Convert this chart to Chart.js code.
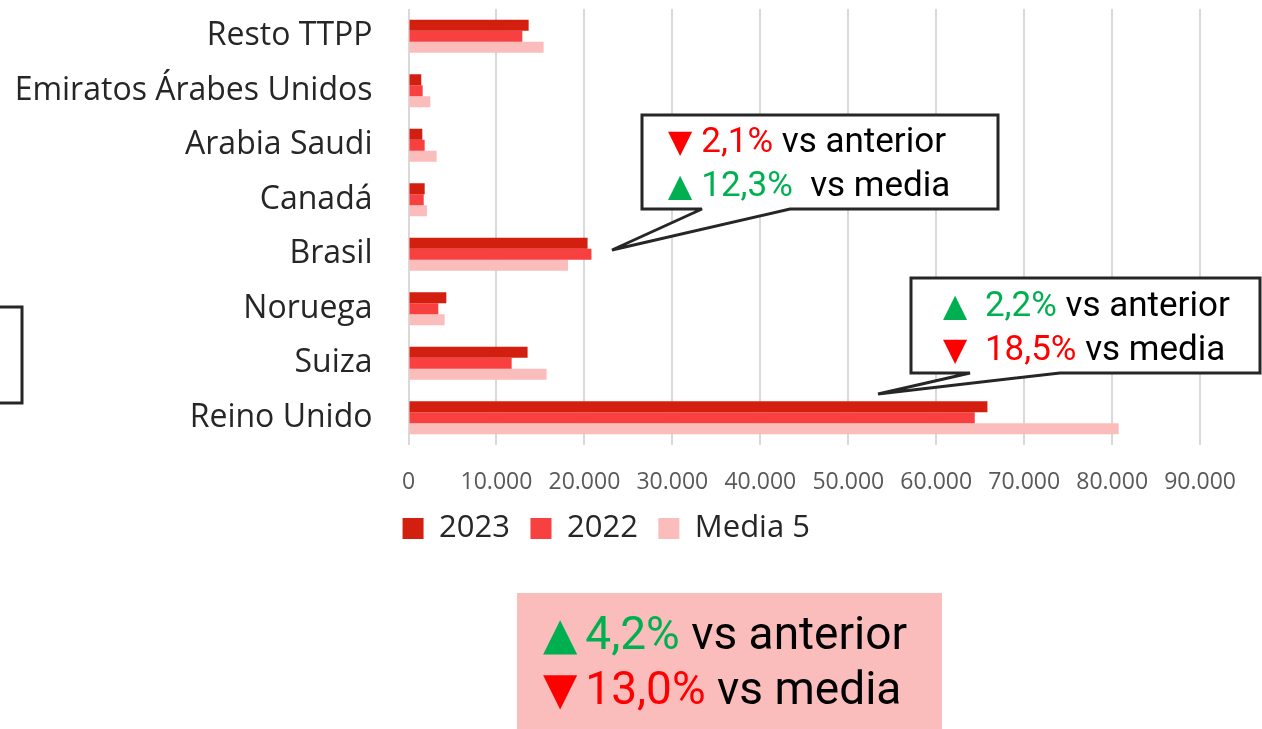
<!DOCTYPE html>
<html>
<head>
<meta charset="utf-8">
<script src="https://cdn.jsdelivr.net/npm/chart.js@4"></script>
<style>
  html, body { margin: 0; padding: 0; background: #fff; }
  #wrap { position: relative; width: 1262px; height: 729px; overflow: hidden; }
  #chart { position: absolute; left: 0; top: 0; }
  svg { position: absolute; left: 0; top: 0; }
  .note { position: absolute; font-family: Roboto, sans-serif; color: #000; }
  .note div { height: 44px; line-height: 44px; font-size: 35px; white-space: pre; }
  .big div { height: 55px; line-height: 55px; font-size: 46px; }
  .tri { font-family: "DejaVu Sans", sans-serif; font-size: 0.9em; margin-right: 9px; }
  .big .tri { font-size: 0.97em; margin-right: 8px; }
  .up { color: #00b050; }
  .down { color: #ff0000; }
  #pink { position: absolute; left: 517px; top: 593px; width: 425px; height: 140px; background: #fbbcbc; }
</style>
</head>
<body>
<div id="wrap">
  <canvas id="chart" width="1262" height="729"></canvas>
  <svg width="1262" height="729">
    <path d="M642,115 L998,115 L998,209 L790,209 L612,250 L702,209 L642,209 Z" fill="#fff" stroke="#262626" stroke-width="3"/>
    <path d="M911,278 L1260,278 L1260,373 L1060,373 L878,394 L970,373 L911,373 Z" fill="#fff" stroke="#262626" stroke-width="3"/>
    <rect x="-10" y="307" width="32" height="96" fill="#fff" stroke="#262626" stroke-width="3"/>
  </svg>
  <div id="pink"></div>
  <div class="note" style="left:668px; top:119px;"><div><span class="tri down">▼</span><span class="down">2,1%</span> vs anterior</div><div><span class="tri up">▲</span><span class="up">12,3%</span>  vs media</div></div>
  <div class="note" style="left:943px; top:283px;"><div><span class="tri up">▲</span> <span class="up">2,2%</span> vs anterior</div><div><span class="tri down">▼</span> <span class="down">18,5%</span> vs media</div></div>
  <div class="note big" style="left:543px; top:606px;"><div><span class="tri up">▲</span><span class="up">4,2%</span> vs anterior</div><div><span class="tri down">▼</span><span class="down">13,0%</span> vs media</div></div>
</div>
<script>
// data
var paises = ['Resto TTPP', 'Emiratos Árabes Unidos', 'Arabia Saudi', 'Canadá', 'Brasil', 'Noruega', 'Suiza', 'Reino Unido'];
var valores2023 = [13660, 1450, 1570, 1840, 20360, 4300, 13540, 65820];
var valores2022 = [12940, 1610, 1840, 1730, 20800, 3390, 11730, 64380];
var media5 = [15360, 2480, 3200, 2100, 18130, 4110, 15700, 80740];
var ticksX = [0, 10000, 20000, 30000, 40000, 50000, 60000, 70000, 80000, 90000];

var ctx = document.getElementById('chart').getContext('2d');
var chart = new Chart(ctx, {
  type: 'bar',
  data: {
    labels: paises,
    datasets: [
      { label: '2023', data: valores2023, backgroundColor: '#d21f0f' },
      { label: '2022', data: valores2022, backgroundColor: '#f84040' },
      { label: 'Media 5', data: media5, backgroundColor: '#fbbcbc' }
    ]
  },
  options: {
    indexAxis: 'y',
    responsive: false,
    animation: false,
    events: [],
    datasets: { bar: { barPercentage: 1, categoryPercentage: 0.607 } },
    layout: { padding: { top: 9, left: 12, right: 61.5, bottom: 175 } },
    scales: {
      x: {
        min: 0,
        max: 90000,
        afterFit: function (s) { s.height = 47.5; },
        afterBuildTicks: function (s) { s.ticks = ticksX.map(function (v) { return { value: v }; }); },
        ticks: {
          padding: 26,
          color: '#595959',
          font: { family: 'Open Sans', size: 23, lineHeight: 1 },
          maxRotation: 0,
          autoSkip: false,
          callback: function (v) { return v === 0 ? '0' : (v / 1000) + '.000'; }
        },
        grid: { color: '#d9d9d9', lineWidth: 2, drawTicks: false },
        border: { display: false }
      },
      y: {
        afterFit: function (s) { s.width = 396.5; },
        ticks: {
          padding: 0,
          color: '#262626',
          font: { family: 'Open Sans', size: 32, lineHeight: 0.5 },
          autoSkip: false
        },
        grid: { display: false, drawTicks: true, tickLength: 36 },
        border: { display: false }
      }
    },
    plugins: {
      tooltip: { enabled: false },
      legend: {
        position: 'bottom',
        labels: {
          boxWidth: 21,
          boxHeight: 21,
          padding: 20.5,
          color: '#262626',
          font: { family: 'Open Sans', size: 31 }
        }
      }
    }
  }
});
</script>
</body>
</html>
